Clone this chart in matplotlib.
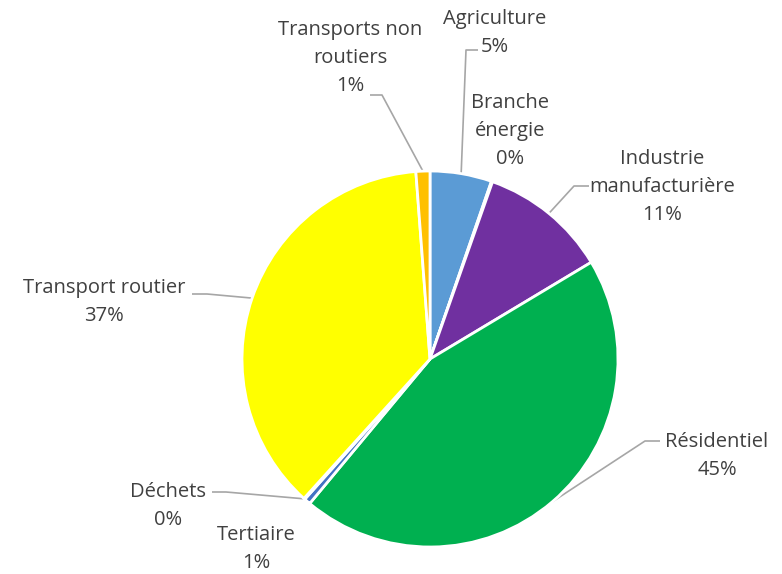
import matplotlib
matplotlib.use("Agg")
import matplotlib.pyplot as plt
import numpy as np

# données (ordre horaire depuis midi)
sectors = ["Agriculture", "Branche\nénergie", "Industrie\nmanufacturière", "Résidentiel",
           "Tertiaire", "Déchets", "Transport routier", "Transports non\nroutiers"]
shares = [5.3, 0.1, 11.0, 44.65, 0.55, 0.1, 37.1, 1.2]
colors = ["#5B9BD5", "#ED7D31", "#7030A0", "#00B050", "#4472C4", "#A5A5A5", "#FFFF00", "#FFC000"]

W, H = 782, 574
plt.rcParams['font.family'] = ['Open Sans', 'DejaVu Sans']

fig = plt.figure(figsize=(W / 100, H / 100), dpi=100)
ax = fig.add_axes([0, 0, 1, 1])

def py(y):
    # coordonnées pixel (origine en haut) -> axe
    return H - y

cx, cy, r = 430, 359, 188
wedges, _ = ax.pie(shares, colors=colors, startangle=90, counterclock=False,
                   center=(cx, py(cy)), radius=r, frame=True,
                   wedgeprops=dict(edgecolor='white', linewidth=2))
ax.set_xlim(0, W)
ax.set_ylim(0, H)
ax.set_aspect('equal')
ax.axis('off')

# position des étiquettes (centre, px) et coude du trait de rappel
label_pos = [(495, 33), (510, 131), (662, 187), (717, 456),
             (256, 549), (168, 506), (104, 302), (350, 58)]
leaders = [((478, 50), (466, 50)), None, ((589, 186), (574, 186)), ((660, 441), (645, 441)),
           None, ((212, 492), (226, 492)), ((192, 294), (207, 294)), ((370, 95), (382, 95))]

txt_color = "#404040"
for w, name, v, pos, ld in zip(wedges, sectors, shares, label_pos, leaders):
    ax.text(pos[0], py(pos[1]), f"{name}\n{round(v)}%", ha='center', va='center',
            multialignment='center', fontsize=14.5, color=txt_color, linespacing=1.52)
    if ld is None:
        continue
    mid = np.deg2rad((w.theta1 + w.theta2) / 2)
    ax_ = cx + r * np.cos(mid)
    ay_ = py(cy) + r * np.sin(mid)
    (x0, y0), (x1, y1) = ld
    ax.plot([x0, x1, ax_], [py(y0), py(y1), ay_], color="#A6A6A6", lw=1.2,
            solid_capstyle='butt', zorder=0.5)

fig.savefig("out.png", dpi=100, facecolor='white')
